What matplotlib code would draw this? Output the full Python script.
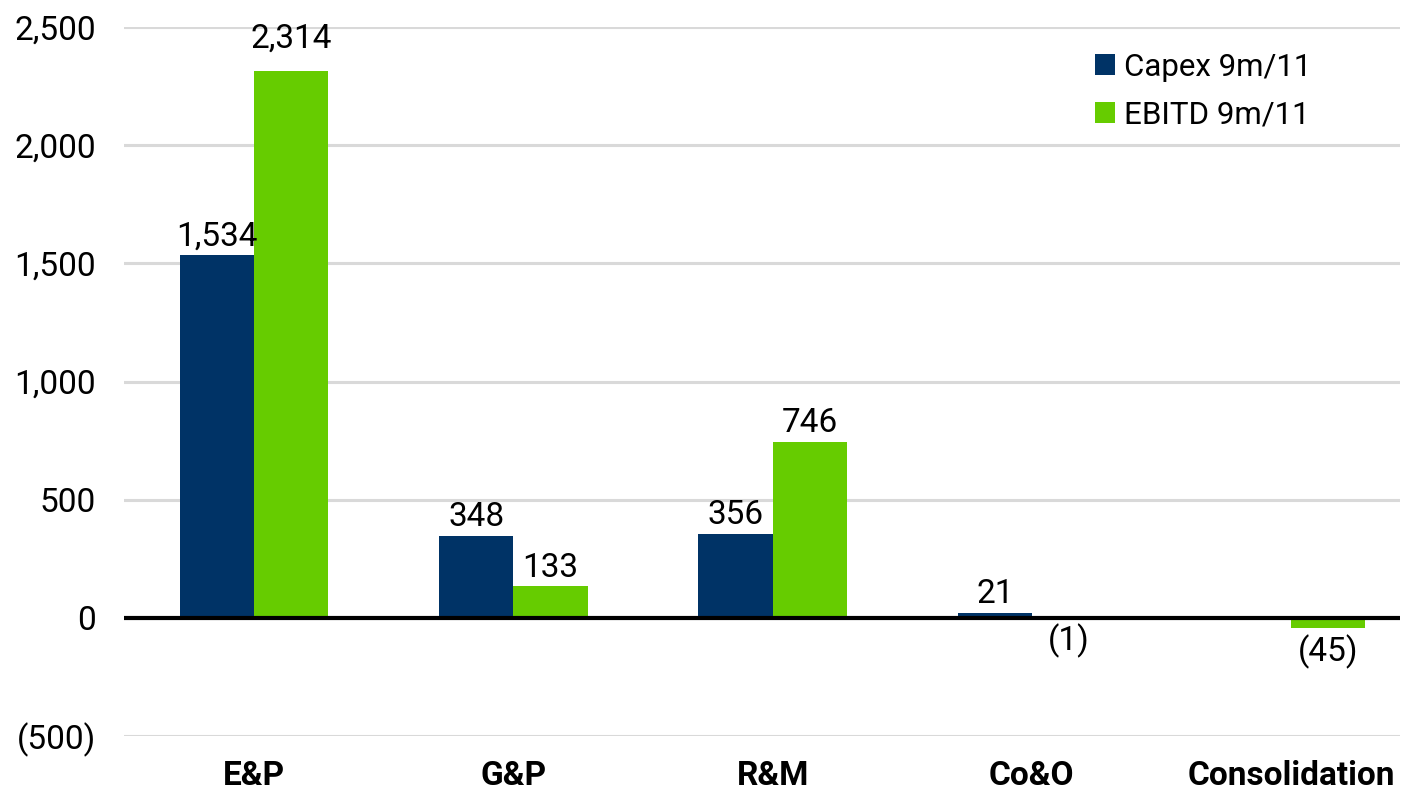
#!/usr/bin/env python3
"""Capex vs EBITD by segment, 9 months 2011 - grouped bar chart."""

import matplotlib

matplotlib.use("Agg")
import matplotlib.pyplot as plt
import matplotlib.ticker as ticker
import numpy as np
from matplotlib.patches import Patch

segments = ["E&P", "G&P", "R&M", "Co&O", "Consolidation"]
capex = [1534, 348, 356, 21, np.nan]
ebitd = [2314, 133, 746, -1, -45]
series_names = ["Capex 9m/11", "EBITD 9m/11"]
y_ticks = [-500, 0, 500, 1000, 1500, 2000, 2500]

NAVY = "#003366"
GREEN = "#66CC00"
GRID = "#D9D9D9"

plt.rcParams.update(
    {
        "font.family": ["Roboto", "DejaVu Sans"],
        "font.size": 24,
    }
)


def fmt_value(v, pos=None):
    if v < 0:
        return f"({abs(v):,.0f})"
    return f"{v:,.0f}"


def create_figure():
    fig = plt.figure(figsize=(14.04, 7.92), dpi=100)
    ax = fig.add_axes([124 / 1404, 1 - 736 / 792, (1400 - 124) / 1404, (736 - 27) / 792])

    x = np.arange(len(segments))
    width = 0.286

    bars_c = ax.bar(x - width / 2, np.nan_to_num(capex), width, color=NAVY, zorder=3)
    bars_e = ax.bar(x + width / 2, ebitd, width, color=GREEN, zorder=3)

    # value labels: above positive bars, below negative ones
    for bars, vals in ((bars_c, capex), (bars_e, ebitd)):
        for bar, v in zip(bars, vals):
            if np.isnan(v):
                continue
            cx = bar.get_x() + bar.get_width() / 2
            if v >= 0:
                # the tallest label is lifted clear of the bar top
                lift = 12 if v == max(ebitd) else 2
                ax.annotate(fmt_value(v), (cx, v), xytext=(0, lift),
                            textcoords="offset points", ha="center", va="bottom")
            else:
                ax.annotate(fmt_value(v), (cx, v), xytext=(0, -4),
                            textcoords="offset points", ha="center", va="top")

    ax.set_ylim(-500, 2500)
    ax.set_xlim(-0.502, 4.42)
    ax.set_yticks(y_ticks)
    ax.yaxis.set_major_formatter(ticker.FuncFormatter(fmt_value))
    ax.set_xticks(x)
    ax.set_xticklabels(segments, fontweight="bold")
    ax.tick_params(axis="both", length=0)
    ax.tick_params(axis="y", pad=20)
    ax.tick_params(axis="x", pad=17)

    for s in ax.spines.values():
        s.set_visible(False)

    ax.yaxis.grid(True, color=GRID, linewidth=2.2, zorder=0)
    ax.set_axisbelow(True)
    ax.axhline(0, color="black", linewidth=3, zorder=4)

    handles = [Patch(facecolor=NAVY), Patch(facecolor=GREEN)]
    ax.legend(handles, series_names, loc="upper left",
              bbox_to_anchor=(1082 / 1404, 1 - 40 / 792),
              bbox_transform=fig.transFigure, frameon=False, fontsize=22.5,
              handlelength=0.64, handleheight=0.64, handletextpad=0.3,
              labelspacing=0.6, borderaxespad=0)

    return fig


def main():
    fig = create_figure()
    fig.savefig("out.png", dpi=100, facecolor="white")
    plt.close(fig)


if __name__ == "__main__":
    main()
